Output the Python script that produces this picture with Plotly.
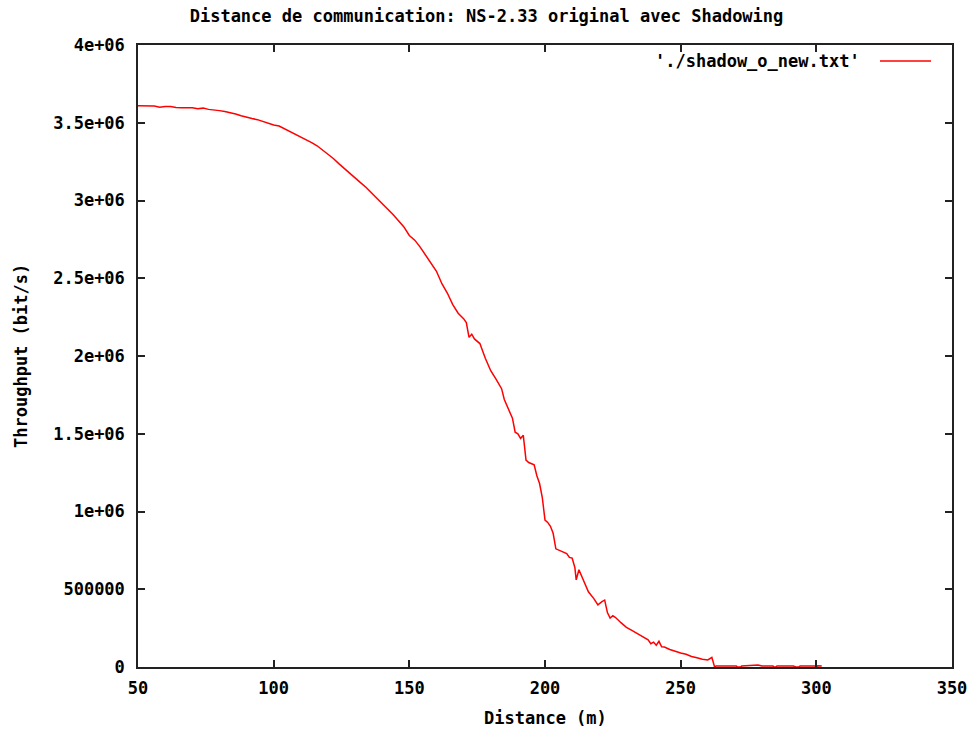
import plotly.graph_objects as go

# Distance (m)
distance = [
    50, 52, 54, 56, 58, 60, 62, 64, 66, 68, 70, 72, 74, 76, 78, 80, 82, 84, 86, 88,
    90, 92, 94, 96, 98, 100, 102, 104, 106, 108, 110, 112, 114, 116, 118, 120, 122, 124, 126, 128,
    130, 132, 134, 136, 138, 140, 142, 144, 146, 148, 150, 152, 154, 156, 158, 160, 162, 164, 166, 168,
    170, 171, 172, 173, 174, 175, 176, 178, 180, 182, 184, 185, 186, 188, 189, 190, 191, 192, 193, 194,
    196, 197, 198, 199, 200, 201, 202, 203, 204, 206, 208, 209, 210, 211, 211.5, 212.5, 214, 215, 216, 218,
    219.5, 221, 222, 223, 224, 225, 226, 228, 230, 232, 234, 236, 238, 239, 240, 241, 242, 243, 244, 246,
    248, 250, 252, 254, 256, 258, 260, 261.5, 262.5,
    263, 265, 267, 269, 270.5, 271, 272, 272.5, 275, 278.5, 280, 284, 284.5, 285, 285.5, 288, 291.5,
    292.5, 293.5, 294, 297, 299.5, 300, 300.5, 302,
]

# Throughput, in units of 1e6 bit/s
throughput_m = [
    3.610, 3.610, 3.610, 3.608, 3.600, 3.605, 3.605, 3.598, 3.597, 3.597, 3.596, 3.590, 3.594, 3.586, 3.584, 3.578, 3.572, 3.565, 3.556, 3.545,
    3.535, 3.527, 3.520, 3.507, 3.495, 3.486, 3.479, 3.462, 3.440, 3.425, 3.410, 3.390, 3.372, 3.352, 3.325, 3.296, 3.270, 3.237, 3.208, 3.175,
    3.145, 3.115, 3.085, 3.050, 3.020, 2.985, 2.950, 2.910, 2.870, 2.830, 2.775, 2.745, 2.700, 2.650, 2.600, 2.545, 2.465, 2.405, 2.330, 2.275,
    2.240, 2.215, 2.120, 2.140, 2.110, 2.095, 2.080, 1.985, 1.905, 1.850, 1.790, 1.720, 1.680, 1.600, 1.510, 1.500, 1.470, 1.490, 1.330, 1.315,
    1.300, 1.230, 1.180, 1.090, 0.945, 0.930, 0.905, 0.860, 0.760, 0.745, 0.730, 0.705, 0.700, 0.640, 0.560, 0.625, 0.560, 0.520, 0.484, 0.440,
    0.400, 0.420, 0.430, 0.350, 0.315, 0.330, 0.318, 0.285, 0.255, 0.235, 0.215, 0.190, 0.175, 0.150, 0.160, 0.140, 0.165, 0.130, 0.128, 0.113,
    0.100, 0.090, 0.082, 0.068, 0.060, 0.050, 0.045, 0.062, 0.0,
    0.006, 0.006, 0.005, 0.006, 0.006, 0.0, 0.0, 0.006, 0.007, 0.013, 0.006, 0.006, 0.0, 0.0, 0.006, 0.006, 0.006,
    0.0, 0.0, 0.006, 0.006, 0.006, 0.0, 0.008, 0.006,
]
throughput = [v * 1e6 for v in throughput_m]

x_ticks = [50, 100, 150, 200, 250, 300, 350]
y_ticks = [0, 500000, 1000000, 1500000, 2000000, 2500000, 3000000, 3500000, 4000000]
y_tick_labels = ["0", "500000", "1e+06", "1.5e+06", "2e+06", "2.5e+06", "3e+06", "3.5e+06", "4e+06"]

title_text = "Distance de communication: NS-2.33 original avec Shadowing"
legend_text = "'./shadow_o_new.txt'"
x_title = "Distance (m)"
y_title = "Throughput (bit/s)"

FONT = "DejaVu Sans Mono"
FS = 17

W, H = 973, 730
L, R, T, B = 138, 21, 45, 63

fig = go.Figure()
fig.add_trace(go.Scatter(
    x=distance, y=throughput, mode="lines",
    line=dict(color="#ff0000", width=1.5),
    name=legend_text, showlegend=False,
))

axis_common = dict(
    showline=True, linecolor="#222222", linewidth=1.5, mirror="ticks",
    ticks="inside", ticklen=7, tickcolor="#222222", tickwidth=1.5,
    showgrid=False, zeroline=False, automargin=False,
    tickfont=dict(family=FONT, size=FS, color="black", weight="bold"),
    layer="above traces",
)

fig.update_layout(
    width=W, height=H,
    margin=dict(l=L, r=R, t=T, b=B, pad=0),
    paper_bgcolor="white", plot_bgcolor="white",
    title=dict(text=title_text, x=0.5, xanchor="center", y=1 - 16 / H, yanchor="middle",
               font=dict(family=FONT, size=FS, color="black", weight="bold")),
    xaxis=dict(range=[50, 350], tickvals=x_ticks, ticktext=[str(t) for t in x_ticks],
               ticklabelstandoff=5, **axis_common),
    yaxis=dict(range=[0, 4000000], tickvals=y_ticks, ticktext=y_tick_labels,
               ticklabelstandoff=8, **axis_common),
    showlegend=False,
)

pw = W - L - R
ph = H - T - B
def px_x(p):
    return (p - L) / pw
def px_y(p):
    return (H - B - p) / ph

# axis titles
fig.add_annotation(x=px_x(545), y=px_y(718), xref="paper", yref="paper", text=x_title,
                   showarrow=False, xanchor="center", yanchor="middle",
                   font=dict(family=FONT, size=FS, color="black", weight="bold"))
fig.add_annotation(x=px_x(21), y=px_y(356), xref="paper", yref="paper", text=y_title,
                   showarrow=False, xanchor="center", yanchor="middle", textangle=-90,
                   font=dict(family=FONT, size=FS, color="black", weight="bold"))

# gnuplot-style key: text then line sample on the right
fig.add_annotation(
    x=px_x(862), y=px_y(61), xref="paper", yref="paper", text=legend_text, showarrow=False,
    xanchor="right", yanchor="middle",
    font=dict(family=FONT, size=FS, color="black", weight="bold"),
)
fig.add_shape(type="line", xref="paper", yref="paper",
              x0=px_x(880), x1=px_x(931), y0=px_y(61), y1=px_y(61),
              line=dict(color="#ff0000", width=1.5))

fig.write_html("out.html", config={"displayModeBar": False},
               post_script="document.body.style.margin='0px';")
